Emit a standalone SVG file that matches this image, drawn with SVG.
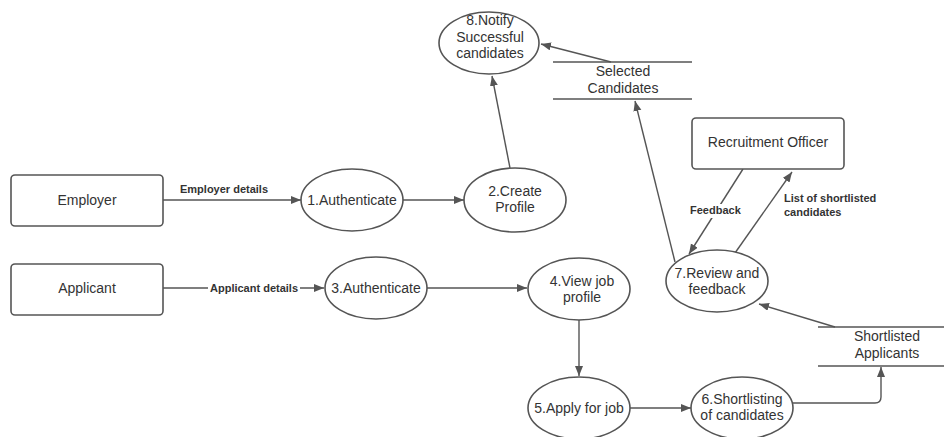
<svg xmlns="http://www.w3.org/2000/svg" width="944" height="437" viewBox="0 0 944 437">
  <style>
    .shape { fill: #ffffff; stroke: #555555; stroke-width: 1.6; }
    .line { fill: none; stroke: #555555; stroke-width: 1.4; }
    .arrow { fill: none; stroke: #555555; stroke-width: 1.4; marker-end: url(#head); }
    .label { font-family: "Liberation Sans", Arial, sans-serif; font-size: 14px; fill: #333333; text-anchor: middle; }
    .edge { font-family: "Liberation Sans", Arial, sans-serif; font-size: 11px; font-weight: bold; fill: #333333; }
    .mask { fill: #ffffff; stroke: none; }
  </style>
  <defs>
    <marker id="head" markerUnits="userSpaceOnUse" markerWidth="11" markerHeight="9" refX="10" refY="4" orient="auto">
      <path d="M0,0 L10,4 L0,8 z" fill="#555555"/>
    </marker>
  </defs>
  <rect width="944" height="437" fill="#ffffff"/>

  <!-- connectors -->
  <g id="connectors">
    <line class="arrow" x1="163" y1="200" x2="301" y2="200"/>
    <text class="edge" x="180" y="193">Employer details</text>

    <line class="arrow" x1="403" y1="200" x2="464" y2="200"/>
    <line class="arrow" x1="510" y1="168" x2="492" y2="76"/>
    <line class="arrow" x1="611" y1="62" x2="541" y2="44"/>

    <line class="arrow" x1="163" y1="288" x2="324" y2="288"/>
    <rect class="mask" x="208" y="280" width="92" height="14"/>
    <text class="edge" x="210" y="292">Applicant details</text>

    <line class="arrow" x1="427" y1="288" x2="527" y2="288"/>
    <line class="arrow" x1="579" y1="320" x2="579" y2="376"/>
    <line class="arrow" x1="629" y1="408" x2="691" y2="408"/>
    <path class="arrow" d="M793,403 H875 Q881,403 881,397 V367"/>
    <line class="arrow" x1="835" y1="327" x2="759" y2="304"/>

    <line class="arrow" x1="675" y1="262" x2="635" y2="101"/>

    <line class="arrow" x1="743" y1="169" x2="689" y2="254"/>
    <rect class="mask" x="688" y="204" width="54" height="14"/>
    <text class="edge" x="690" y="214">Feedback</text>

    <line class="arrow" x1="735" y1="253" x2="792" y2="172"/>
    <text class="edge" x="784" y="202">List of shortlisted</text>
    <text class="edge" x="784" y="216">candidates</text>
  </g>

  <!-- external entities -->
  <g id="employer">
    <rect class="shape" x="11" y="175" width="152" height="51" rx="4"/>
    <text class="label" x="87" y="205">Employer</text>
  </g>
  <g id="applicant">
    <rect class="shape" x="11" y="264" width="152" height="51" rx="4"/>
    <text class="label" x="87" y="293">Applicant</text>
  </g>
  <g id="recruitment-officer">
    <rect class="shape" x="692" y="118" width="152" height="51" rx="4"/>
    <text class="label" x="768" y="147">Recruitment Officer</text>
  </g>

  <!-- processes -->
  <g id="p1">
    <ellipse class="shape" cx="352" cy="200" rx="51" ry="31"/>
    <text class="label" x="352" y="205">1.Authenticate</text>
  </g>
  <g id="p2">
    <ellipse class="shape" cx="515" cy="200" rx="51" ry="32"/>
    <text class="label" x="515" y="196">2.Create</text>
    <text class="label" x="515" y="212">Profile</text>
  </g>
  <g id="p3">
    <ellipse class="shape" cx="376" cy="288" rx="51" ry="31"/>
    <text class="label" x="376" y="293">3.Authenticate</text>
  </g>
  <g id="p4">
    <ellipse class="shape" cx="579" cy="289" rx="51" ry="31"/>
    <text class="label" x="582" y="286">4.View job</text>
    <text class="label" x="582" y="302">profile</text>
  </g>
  <g id="p5">
    <ellipse class="shape" cx="579" cy="408" rx="51" ry="31"/>
    <text class="label" x="579" y="413">5.Apply for job</text>
  </g>
  <g id="p6">
    <ellipse class="shape" cx="742" cy="408" rx="51" ry="31"/>
    <text class="label" x="742" y="404">6.Shortlisting</text>
    <text class="label" x="742" y="420">of candidates</text>
  </g>
  <g id="p7">
    <ellipse class="shape" cx="717" cy="281" rx="51" ry="31"/>
    <text class="label" x="717" y="278">7.Review and</text>
    <text class="label" x="717" y="294">feedback</text>
  </g>
  <g id="p8">
    <ellipse class="shape" cx="489" cy="43" rx="50" ry="31"/>
    <text class="label" x="490" y="25">8.Notify</text>
    <text class="label" x="490" y="42">Successful</text>
    <text class="label" x="490" y="58">candidates</text>
  </g>

  <!-- data stores -->
  <g id="selected-candidates">
    <line class="line" x1="553" y1="62" x2="692" y2="62"/>
    <line class="line" x1="553" y1="99" x2="692" y2="99"/>
    <text class="label" x="623" y="76">Selected</text>
    <text class="label" x="623" y="93">Candidates</text>
  </g>
  <g id="shortlisted-applicants">
    <line class="line" x1="818" y1="327" x2="944" y2="327"/>
    <line class="line" x1="818" y1="366" x2="944" y2="366"/>
    <text class="label" x="887" y="341">Shortlisted</text>
    <text class="label" x="887" y="358">Applicants</text>
  </g>
</svg>
